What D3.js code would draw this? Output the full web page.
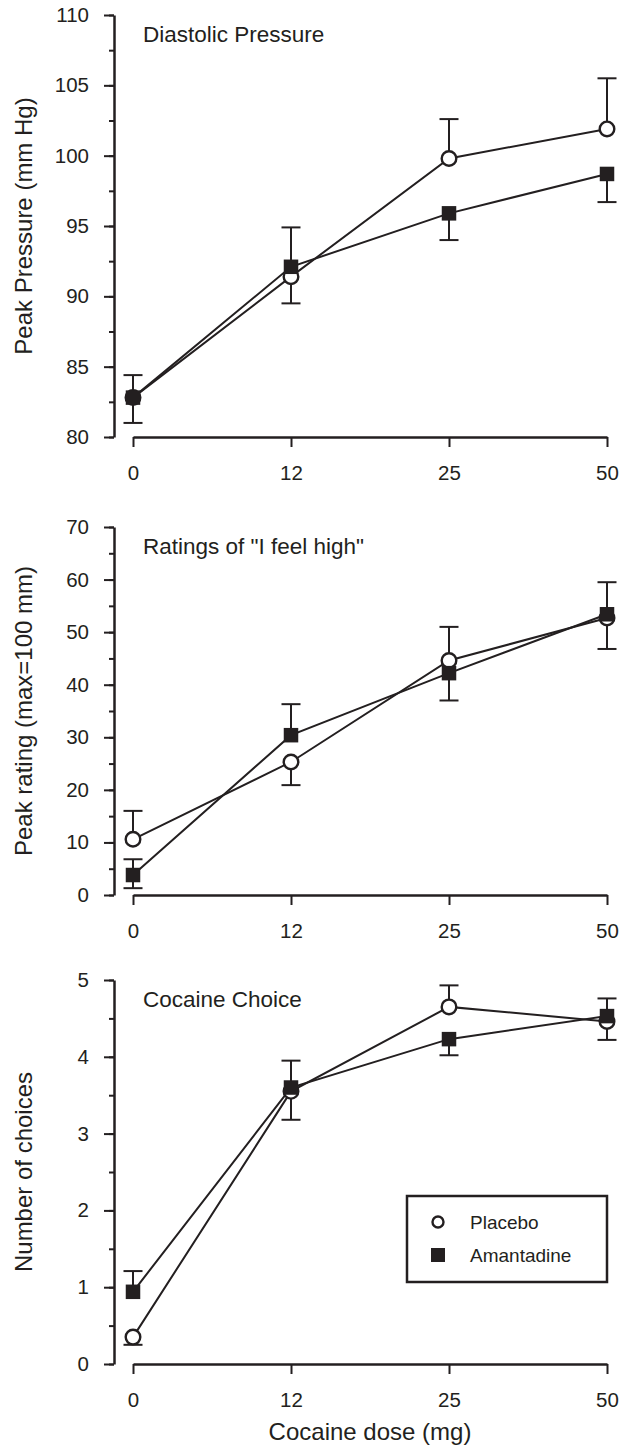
<!DOCTYPE html>
<html>
<head>
<meta charset="utf-8">
<script src="https://cdn.jsdelivr.net/npm/d3@7"></script>
<style>
body { margin: 0; background: #fff; }
text { font-family: "Liberation Sans", Arial, sans-serif; fill: #231f20; }
</style>
</head>
<body>
<div class="container"></div>
<script>
const wd = 622
const ht = 1448
const ink = "#231f20"

// doses on the x axis (mg)
const doses = ["0", "12", "25", "50"]

// diastolic pressure
const pressurePlacebo = [82.8, 91.4, 99.8, 101.9]
const pressureAmantadine = [82.8, 92.1, 95.9, 98.7]
const pressurePlaceboErr = [[82.8, 84.4], [89.5, 91.4], [99.8, 102.6], [101.9, 105.5]]
const pressureAmantadineErr = [[81.0, 82.8], [92.1, 94.9], [94.0, 95.9], [96.7, 98.7]]
const pressureTicks = [80, 85, 90, 95, 100, 105, 110]

// "I feel high" ratings
const ratingPlacebo = [10.6, 25.3, 44.6, 52.7]
const ratingAmantadine = [3.8, 30.4, 42.2, 53.4]
const ratingPlaceboErr = [[10.6, 16.0], [20.9, 25.3], [44.6, 51.0], [52.7, 59.5]]
const ratingAmantadineErr = [[1.3, 6.8], [30.4, 36.3], [37.0, 42.2], [46.8, 53.4]]
const ratingTicks = [0, 10, 20, 30, 40, 50, 60, 70]

// cocaine choice
const choicePlacebo = [0.35, 3.55, 4.65, 4.46]
const choiceAmantadine = [0.94, 3.6, 4.23, 4.53]
const choicePlaceboErr = [[0.25, 0.35], [3.18, 3.55], [4.65, 4.93], [4.22, 4.46]]
const choiceAmantadineErr = [[0.94, 1.21], [3.6, 3.95], [4.02, 4.23], [4.53, 4.76]]
const choiceTicks = [0, 1, 2, 3, 4, 5]

const legendNames = ["Placebo", "Amantadine"]

const svgC = d3.select(".container")
  .append("svg")
  .attr("width", wd)
  .attr("height", ht)

const x = d3.scalePoint().domain(doses).range([133, 607])
const axisX = 114
const fontF = "Liberation Sans, Arial, sans-serif"

const panels = [
  {title: "Diastolic Pressure", ylab: "Peak Pressure (mm Hg)", top: 15, bot: 437,
   ticks: pressureTicks, minorStep: 2.5,
   pl: pressurePlacebo, am: pressureAmantadine, plErr: pressurePlaceboErr, amErr: pressureAmantadineErr},
  {title: "Ratings of \"I feel high\"", ylab: "Peak rating (max=100 mm)", top: 527, bot: 895,
   ticks: ratingTicks, minorStep: 5,
   pl: ratingPlacebo, am: ratingAmantadine, plErr: ratingPlaceboErr, amErr: ratingAmantadineErr},
  {title: "Cocaine Choice", ylab: "Number of choices", top: 980, bot: 1364,
   ticks: choiceTicks, minorStep: 0.5,
   pl: choicePlacebo, am: choiceAmantadine, plErr: choicePlaceboErr, amErr: choiceAmantadineErr}
]

const lineFunc = d3.line()

function drawCircle(g, cx, cy, r) {
  g.append("circle")
    .attr("cx", cx).attr("cy", cy).attr("r", r)
    .attr("fill", "#fff")
    .attr("stroke", ink)
    .attr("stroke-width", 2.4)
}

function drawSquare(g, cx, cy, s) {
  g.append("rect")
    .attr("x", cx - s / 2).attr("y", cy - s / 2)
    .attr("width", s).attr("height", s)
    .attr("fill", ink)
}

panels.forEach(p => {
  const lo = p.ticks[0]
  const hi = p.ticks[p.ticks.length - 1]
  const y = d3.scaleLinear().domain([lo, hi]).range([p.bot, p.top])
  const g = svgC.append("g")

  // minor ticks
  const minor = d3.range(lo, hi + 0.001, p.minorStep)
  g.append("g")
    .attr("transform", `translate(${axisX},0)`)
    .call(d3.axisLeft(y).tickValues(minor).tickSize(5).tickFormat(""))
    .call(a => a.select(".domain").remove())
    .call(a => a.selectAll("line").attr("stroke", ink).attr("stroke-width", 2))

  // major ticks + spine
  g.append("g")
    .attr("transform", `translate(${axisX},0)`)
    .call(d3.axisLeft(y).tickValues(p.ticks).tickFormat(d3.format("d")).tickSize(10).tickSizeOuter(0).tickPadding(15))
    .call(a => a.select(".domain").attr("stroke", ink).attr("stroke-width", 2.5))
    .call(a => a.selectAll("line").attr("stroke", ink).attr("stroke-width", 2))
    .call(a => a.selectAll("text").attr("font-size", 20.5).style("font-family", fontF).attr("fill", ink))

  // x axis, detached from y axis
  g.append("g")
    .attr("transform", `translate(0,${p.bot})`)
    .call(d3.axisBottom(x).tickSize(10).tickSizeOuter(0).tickPadding(18))
    .call(a => a.select(".domain").attr("stroke", ink).attr("stroke-width", 2.5))
    .call(a => a.selectAll("line").attr("stroke", ink).attr("stroke-width", 2))
    .call(a => a.selectAll("text").attr("font-size", 20.5).style("font-family", fontF).attr("fill", ink))

  // title in the panel
  g.append("text")
    .attr("x", 143).attr("y", p.top + 27)
    .attr("font-size", 22.5)
    .text(p.title)

  // y label
  g.append("text")
    .attr("transform", `translate(32,${(p.top + p.bot) / 2}) rotate(-90)`)
    .attr("text-anchor", "middle")
    .attr("font-size", 24)
    .text(p.ylab)

  // connecting lines
  ;[p.pl, p.am].forEach(vals => {
    g.append("path")
      .attr("d", lineFunc(vals.map((v, i) => [x(doses[i]), y(v)])))
      .attr("fill", "none")
      .attr("stroke", ink)
      .attr("stroke-width", 2)
  })

  // error bars
  ;[p.plErr, p.amErr].forEach((errs, k) => {
    const vals = k == 0 ? p.pl : p.am
    errs.forEach((e, i) => {
      const cx = x(doses[i])
      g.append("line")
        .attr("x1", cx).attr("x2", cx)
        .attr("y1", y(e[0])).attr("y2", y(e[1]))
        .attr("stroke", ink).attr("stroke-width", 2)
      e.forEach(v => {
        if (Math.abs(v - vals[i]) < 1e-9) return
        g.append("line")
          .attr("x1", cx - 9.5).attr("x2", cx + 9.5)
          .attr("y1", y(v)).attr("y2", y(v))
          .attr("stroke", ink).attr("stroke-width", 2)
      })
    })
  })

  // markers
  p.pl.forEach((v, i) => drawCircle(g, x(doses[i]), y(v), 7.3))
  p.am.forEach((v, i) => drawSquare(g, x(doses[i]), y(v), 14.5))
})

// x title
svgC.append("text")
  .attr("x", (x.range()[0] + x.range()[1]) / 2)
  .attr("y", 1440)
  .attr("text-anchor", "middle")
  .attr("font-size", 24)
  .text("Cocaine dose (mg)")

// legend
const lg = svgC.append("g")
lg.append("rect")
  .attr("x", 407).attr("y", 1196)
  .attr("width", 200).attr("height", 86)
  .attr("fill", "#fff")
  .attr("stroke", ink)
  .attr("stroke-width", 2.5)

drawCircle(lg, 438, 1222, 5.5)
drawSquare(lg, 438, 1255, 14)
legendNames.forEach((n, i) => {
  lg.append("text")
    .attr("x", 470).attr("y", 1229 + i * 33)
    .attr("font-size", 19)
    .text(n)
})
</script>
</body>
</html>
